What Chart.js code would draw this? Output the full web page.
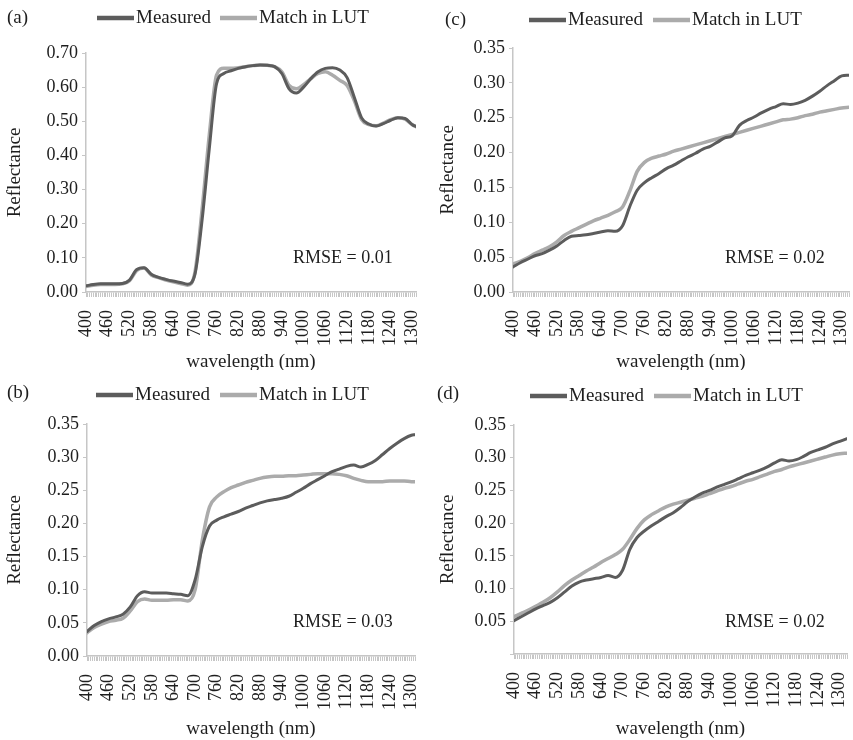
<!DOCTYPE html>
<html>
<head>
<meta charset="utf-8">
<script src="https://cdn.jsdelivr.net/npm/chart.js@4.4.1/dist/chart.umd.min.js"></script>
<style>
  body { margin: 0; background: #fff; }
  .panel { position: absolute; width: 426px; height: 370px; }
</style>
</head>
<body>
<div class="panel" style="left:0;top:0"><canvas id="chart-a" width="426" height="370"></canvas></div>
<div class="panel" style="left:427px;top:0"><canvas id="chart-c" width="426" height="370"></canvas></div>
<div class="panel" style="left:0;top:370px"><canvas id="chart-b" width="426" height="370"></canvas></div>
<div class="panel" style="left:427px;top:370px"><canvas id="chart-d" width="426" height="370"></canvas></div>
<script>
// wavelength (nm) sampled every 20 nm, last point at the axis end
const wavelengthAB = [400,420,440,460,480,500,520,540,560,580,600,620,640,660,680,700,720,740,760,780,800,820,840,860,880,900,920,940,960,980,1000,1020,1040,1060,1080,1100,1120,1140,1160,1180,1200,1220,1240,1260,1280,1300,1310];
const wavelengthCD = [400,420,440,460,480,500,520,540,560,580,600,620,640,660,680,700,720,740,760,780,800,820,840,860,880,900,920,940,960,980,1000,1020,1040,1060,1080,1100,1120,1140,1160,1180,1200,1220,1240,1260,1280,1300,1320];

const measuredA = [0.018,0.022,0.024,0.024,0.024,0.025,0.035,0.066,0.071,0.052,0.043,0.037,0.032,0.028,0.023,0.050,0.210,0.420,0.610,0.640,0.648,0.655,0.660,0.663,0.665,0.664,0.660,0.640,0.595,0.583,0.600,0.625,0.645,0.655,0.657,0.650,0.628,0.570,0.510,0.492,0.486,0.493,0.503,0.510,0.508,0.490,0.485];
const matchA    = [0.016,0.020,0.022,0.022,0.022,0.024,0.033,0.063,0.070,0.050,0.042,0.035,0.030,0.025,0.020,0.055,0.240,0.460,0.635,0.655,0.655,0.657,0.660,0.663,0.665,0.664,0.660,0.645,0.605,0.595,0.607,0.625,0.640,0.645,0.635,0.620,0.605,0.560,0.505,0.490,0.487,0.495,0.505,0.510,0.506,0.490,0.484];

const measuredB = [0.037,0.046,0.052,0.056,0.059,0.063,0.074,0.091,0.097,0.095,0.095,0.095,0.094,0.093,0.091,0.115,0.165,0.196,0.205,0.210,0.214,0.218,0.223,0.227,0.231,0.234,0.236,0.238,0.241,0.247,0.253,0.260,0.266,0.272,0.278,0.282,0.286,0.288,0.285,0.289,0.295,0.304,0.313,0.321,0.328,0.333,0.334];
const matchB    = [0.035,0.043,0.048,0.052,0.054,0.057,0.068,0.082,0.086,0.084,0.084,0.084,0.085,0.085,0.083,0.100,0.175,0.225,0.240,0.248,0.254,0.258,0.262,0.265,0.268,0.270,0.271,0.271,0.272,0.272,0.273,0.274,0.275,0.275,0.275,0.274,0.272,0.268,0.265,0.263,0.263,0.263,0.264,0.264,0.264,0.263,0.263];

const measuredC = [0.036,0.042,0.047,0.052,0.055,0.060,0.066,0.074,0.080,0.081,0.082,0.084,0.086,0.088,0.087,0.095,0.123,0.146,0.157,0.164,0.170,0.177,0.182,0.188,0.194,0.199,0.205,0.209,0.215,0.221,0.224,0.239,0.246,0.251,0.257,0.262,0.266,0.270,0.269,0.271,0.275,0.281,0.288,0.296,0.303,0.310,0.311];
const matchC    = [0.040,0.044,0.049,0.055,0.060,0.065,0.072,0.081,0.087,0.092,0.097,0.102,0.106,0.110,0.115,0.122,0.145,0.173,0.186,0.192,0.195,0.198,0.202,0.205,0.208,0.211,0.214,0.217,0.220,0.223,0.226,0.229,0.232,0.235,0.238,0.241,0.244,0.247,0.248,0.250,0.253,0.255,0.258,0.260,0.262,0.264,0.265];

const measuredD = [0.051,0.057,0.063,0.069,0.074,0.079,0.086,0.095,0.104,0.110,0.113,0.115,0.117,0.120,0.117,0.128,0.160,0.178,0.188,0.196,0.203,0.210,0.216,0.224,0.233,0.240,0.246,0.250,0.255,0.259,0.263,0.268,0.273,0.277,0.281,0.286,0.292,0.297,0.295,0.297,0.302,0.308,0.312,0.316,0.321,0.325,0.329];
const matchD    = [0.057,0.062,0.067,0.073,0.079,0.086,0.095,0.105,0.113,0.120,0.127,0.133,0.140,0.146,0.152,0.160,0.175,0.192,0.205,0.213,0.219,0.225,0.229,0.232,0.235,0.238,0.241,0.245,0.249,0.253,0.256,0.260,0.264,0.267,0.271,0.275,0.279,0.282,0.286,0.289,0.292,0.295,0.298,0.301,0.304,0.306,0.307];

const seriesNames = ['Measured', 'Match in LUT'];
const rmseLabels = { a: 'RMSE = 0.01', b: 'RMSE = 0.03', c: 'RMSE = 0.02', d: 'RMSE = 0.02' };

const DARK = '#5c5c5c';
const LIGHT = '#ababab';
const AXIS = '#c6c6c6';
const TEXT = '#1e1e1e';
const FAMILY = '"Liberation Serif", "Times New Roman", serif';
const FS = 18;       // ticks, RMSE
const FS_BIG = 19;   // legend, axis titles, panel letters

// layout of each panel (pixels inside its own canvas)
const panels = [
  { id: 'a', x: wavelengthAB, m: measuredA, l: matchA, ymax: 0.70, ystep: 0.10, xmax: 1310,
    top: 53, right: 10, yw: 86, xh: 78, yPad: 4, xPad: -3, letter: [7, 18], leg: [97, 220, 18], rmse: [293, 258] },
  { id: 'c', x: wavelengthCD, m: measuredC, l: matchC, ymax: 0.35, ystep: 0.05, xmax: 1320,
    top: 48, right: 4, yw: 86, xh: 78, yPad: 10, xPad: -3, letter: [18, 20], leg: [102, 226, 20], rmse: [298, 258] },
  { id: 'b', x: wavelengthAB, m: measuredB, l: matchB, ymax: 0.35, ystep: 0.05, xmax: 1310,
    top: 54, right: 11, yw: 87, xh: 84, yPad: 4, xPad: 0, letter: [7, 23], leg: [96, 220, 25], rmse: [293, 252] },
  { id: 'd', x: wavelengthCD, m: measuredD, l: matchD, ymax: 0.35, ystep: 0.05, xmax: 1320,
    top: 55, right: 6, yw: 87, xh: 86, yPad: 10, xPad: 0, letter: [10, 24], leg: [103, 227, 26], rmse: [298, 252], hideZero: true }
];

const overlay = {
  id: 'overlay',
  afterDraw(chart, args, o) {
    const ctx = chart.ctx;
    ctx.save();
    ctx.font = FS_BIG + 'px ' + FAMILY;
    ctx.fillStyle = TEXT;
    ctx.textBaseline = 'middle';
    ctx.textAlign = 'left';
    ctx.fillText('(' + o.p.id + ')', o.p.letter[0], o.p.letter[1]);

    // legend: thick line sample followed by the name
    const [x1, x2, y] = o.p.leg;
    [[x1, DARK, seriesNames[0]], [x2, LIGHT, seriesNames[1]]].forEach(([x, col, name]) => {
      ctx.strokeStyle = col;
      ctx.lineWidth = 4.5;
      ctx.beginPath();
      ctx.moveTo(x, y);
      ctx.lineTo(x + 37, y);
      ctx.stroke();
      ctx.fillText(name, x + 39, y);
    });

    ctx.font = FS + 'px ' + FAMILY;
    ctx.fillText(rmseLabels[o.p.id], o.p.rmse[0], o.p.rmse[1]);
    ctx.restore();
  }
};

function makePanel(p) {
  const ctx = document.getElementById('chart-' + p.id).getContext('2d');
  const toPts = arr => arr.map((v, i) => ({ x: p.x[i], y: v }));
  new Chart(ctx, {
    type: 'line',
    data: {
      datasets: [
        { label: seriesNames[0], data: toPts(p.m), borderColor: DARK, borderWidth: 3 },
        { label: seriesNames[1], data: toPts(p.l), borderColor: LIGHT, borderWidth: 3.5 }
      ]
    },
    options: {
      responsive: false,
      animation: false,
      events: [],
      layout: { padding: { top: p.top, right: p.right, left: 0, bottom: 0 } },
      elements: {
        point: { radius: 0 },
        line: { cubicInterpolationMode: 'monotone', borderCapStyle: 'round', borderJoinStyle: 'round' }
      },
      scales: {
        x: {
          type: 'linear',
          min: 400,
          max: p.xmax,
          // fixed axis band; rotated end labels must not shrink the plot
          afterFit: s => { s.height = p.xh; s.paddingLeft = 0; s.paddingRight = 0; },
          border: { color: AXIS, width: 1.5 },
          grid: { drawOnChartArea: false, color: AXIS, tickLength: 5 },
          ticks: {
            stepSize: 5,
            autoSkip: false,
            minRotation: 90,
            maxRotation: 90,
            padding: 13,
            color: TEXT,
            font: { family: FAMILY, size: FS },
            callback: v => (Math.round(v) - 400) % 60 === 0 ? String(Math.round(v)) : ''
          },
          title: { display: true, text: 'wavelength (nm)', color: TEXT, font: { family: FAMILY, size: FS_BIG }, padding: { top: 0, bottom: p.xPad } }
        },
        y: {
          min: 0,
          max: p.ymax,
          afterFit: s => { s.width = p.yw; },
          border: { color: AXIS, width: 1.5 },
          grid: { drawOnChartArea: false, color: AXIS, tickLength: 4 },
          ticks: {
            stepSize: p.ystep,
            padding: 4,
            color: TEXT,
            font: { family: FAMILY, size: FS },
            callback: v => (p.hideZero && Math.abs(v) < 1e-9) ? '' : v.toFixed(2)
          },
          title: { display: true, text: 'Reflectance', color: TEXT, font: { family: FAMILY, size: FS_BIG }, padding: { top: p.yPad, bottom: 0 } }
        }
      },
      plugins: {
        legend: { display: false },
        tooltip: { enabled: false },
        overlay: { p: p }
      }
    },
    plugins: [overlay]
  });
}

panels.forEach(makePanel);
</script>
</body>
</html>
